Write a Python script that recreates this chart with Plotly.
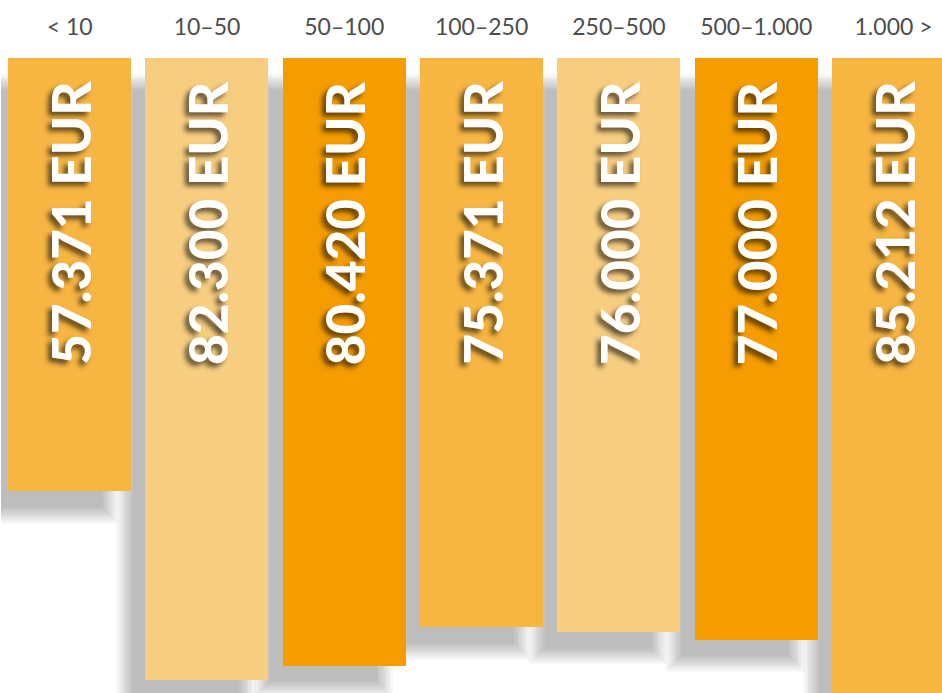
import plotly.graph_objects as go

# Revenue per size class (EUR)
categories = ["< 10", "10–50", "50–100", "100–250", "250–500", "500–1.000", "1.000 >"]
values = [57371, 82300, 80420, 75371, 76000, 77000, 85212]
colors = ["#F7B542", "#F7CD80", "#F49C00", "#F7B542", "#F7CD80", "#F49C00", "#F7B542"]

W, H = 942, 693
margin_l, margin_t = 1, 58
x_range = [-0.5, 6.353]
y_max = 84050
px_per_x = (W - margin_l) / (x_range[1] - x_range[0])
px_per_y = (H - margin_t) / y_max
bar_width = 0.8956

# soft drop shadow: stacked translucent copies, each grown a little more
shadow_dx, shadow_dy = -21, 24
n_layers = 10
layer_alpha = 1 - (1 - 0.235) ** (1 / n_layers)

fig = go.Figure()
xs = list(range(len(categories)))
for k in range(n_layers):
    grow = -9 + 18 * (k + 0.5) / n_layers  # px
    w = bar_width + 2 * grow / px_per_x
    fig.add_trace(go.Bar(
        x=xs,
        y=[v + 2 * grow / px_per_y for v in values],
        base=(shadow_dy - grow) / px_per_y,
        width=w,
        offset=-w / 2 + shadow_dx / px_per_x,
        marker=dict(color=f"rgba(0,0,0,{layer_alpha:.4f})", line=dict(width=0)),
        hoverinfo="skip",
        showlegend=False,
    ))

fig.add_trace(go.Bar(
    x=xs,
    y=values,
    width=bar_width,
    marker=dict(color=colors, line=dict(width=0)),
    showlegend=False,
))

def fmt(v):
    return f"{v:,}".replace(",", ".") + " EUR"

for i, v in enumerate(values):
    fig.add_annotation(
        x=i, y=21 / px_per_y,
        text=fmt(v),
        textangle=-90,
        xanchor="center", yanchor="top",
        showarrow=False,
        font=dict(family="Lato", size=53, color="white", weight=900,
                  shadow="-4px -4px 5px rgba(0,0,0,0.6)"),
    )

fig.update_layout(
    width=W, height=H,
    margin=dict(l=margin_l, r=0, t=margin_t, b=0),
    paper_bgcolor="white", plot_bgcolor="white",
    barmode="overlay",
    bargap=0,
    xaxis=dict(
        range=x_range, side="top",
        tickmode="array", tickvals=xs, ticktext=categories,
        showgrid=False, zeroline=False, showline=False, ticks="",
        tickfont=dict(family="Lato", size=23, color="#4d4d4d"),
        ticklabelstandoff=17,
    ),
    yaxis=dict(
        range=[y_max, 0], visible=False, showgrid=False, zeroline=False,
    ),
)

fig.write_html("out.html")
